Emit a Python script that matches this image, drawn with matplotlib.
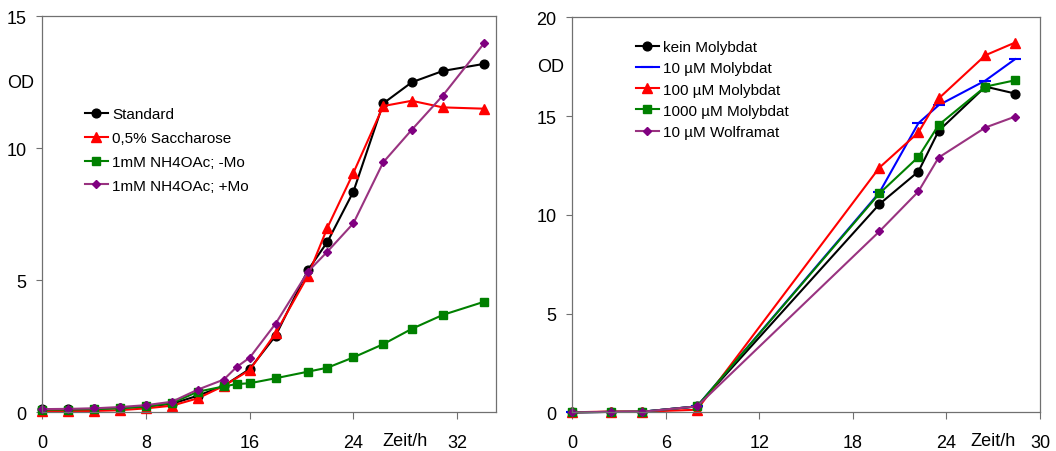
import matplotlib
matplotlib.use("Agg")
import matplotlib.pyplot as plt

plt.rcParams['font.family'] = ['Liberation Sans', 'DejaVu Sans']

# ---------------- left panel data ----------------
x_main = [0, 2, 4, 6, 8, 10, 12, 14, 16, 18, 20.5, 22, 24, 26.3, 28.5, 30.9, 34.1]
x_ext = [0, 2, 4, 6, 8, 10, 12, 14, 15, 16, 18, 20.5, 22, 24, 26.3, 28.5, 30.9, 34.1]
standard = [0.12, 0.12, 0.13, 0.17, 0.22, 0.32, 0.63, 1.0, 1.64, 2.9, 5.39, 6.46, 8.36, 11.7, 12.5, 12.93, 13.2]
saccharose = [0.05, 0.05, 0.05, 0.08, 0.15, 0.25, 0.53, 1.0, 1.6, 3.0, 5.18, 7.0, 9.07, 11.6, 11.8, 11.55, 11.5]
nh4_minus_mo = [0.1, 0.1, 0.12, 0.15, 0.22, 0.35, 0.78, 0.98, 1.07, 1.1, 1.29, 1.54, 1.69, 2.08, 2.58, 3.16, 3.69, 4.19]
nh4_plus_mo = [0.12, 0.13, 0.15, 0.2, 0.27, 0.4, 0.86, 1.24, 1.72, 2.07, 3.36, 5.33, 6.09, 7.16, 9.47, 10.7, 12.0, 13.99]
left_labels = ["Standard", "0,5% Saccharose", "1mM NH4OAc; -Mo", "1mM NH4OAc; +Mo"]
left_xticks = [0, 8, 16, 24, 32]
left_yticks = [0, 5, 10, 15]

# ---------------- right panel data ----------------
x_right = [0, 2.5, 4.5, 8, 19.7, 22.2, 23.5, 26.5, 28.4]
kein = [0.0, 0.02, 0.03, 0.3, 10.54, 12.19, 14.25, 16.49, 16.14]
mo10 = [0.0, 0.02, 0.03, 0.3, 11.13, 14.64, 15.55, 16.8, 17.88]
mo100 = [0.0, 0.04, 0.03, 0.13, 12.39, 14.17, 15.89, 18.08, 18.72]
mo1000 = [0.0, 0.02, 0.03, 0.3, 11.08, 12.93, 14.55, 16.49, 16.81]
wolfram = [0.0, 0.02, 0.03, 0.3, 9.16, 11.18, 12.9, 14.42, 14.97]
right_labels = ["kein Molybdat", "10 µM Molybdat", "100 µM Molybdat", "1000 µM Molybdat", "10 µM Wolframat"]
right_xticks = [0, 6, 12, 18, 24, 30]
right_yticks = [0, 5, 10, 15, 20]

SPINE = '#707070'
PURPLE_LINE = '#993380'
PURPLE = '#800080'
GREEN = '#008000'

fig = plt.figure(figsize=(10.56, 4.52), dpi=100)
ax1 = fig.add_axes([42.3/1056, 1-413.3/452, (496-42.3)/1056, (413.3-17.3)/452])
ax2 = fig.add_axes([572.3/1056, 1-413.3/452, (1040-572.3)/1056, (413.3-18.3)/452])


def style(ax, xlim, ylim, xticks, yticks):
    ax.set_xlim(*xlim)
    ax.set_ylim(*ylim)
    ax.set_xticks(xticks)
    ax.set_yticks(yticks)
    for s in ax.spines.values():
        s.set_color(SPINE)
        s.set_linewidth(0.9)
    ax.tick_params(axis='x', direction='out', length=5.2, width=0.8, color=SPINE,
                   labelsize=13, pad=10.3)
    ax.tick_params(axis='y', direction='out', length=4.2, width=0.8, color=SPINE,
                   labelsize=13, pad=7.0)


lw = 1.5
ax1.plot(x_main, standard, color='black', lw=lw, marker='o', ms=6.3, clip_on=False, label=left_labels[0])
ax1.plot(x_main, saccharose, color='red', lw=lw, marker='^', ms=7.2, clip_on=False, label=left_labels[1])
ax1.plot(x_ext, nh4_minus_mo, color=GREEN, lw=lw, marker='s', ms=5.3, clip_on=False, label=left_labels[2])
ax1.plot(x_ext, nh4_plus_mo, color=PURPLE_LINE, lw=lw, marker='D', ms=4.4, mfc=PURPLE, mec=PURPLE,
         clip_on=False, label=left_labels[3])
style(ax1, (0, 35), (0, 15), left_xticks, left_yticks)

ax2.plot(x_right, kein, color='black', lw=lw, marker='o', ms=6.3, clip_on=False, label=right_labels[0])
ax2.plot(x_right, mo10, color='blue', lw=lw, marker='_', ms=9, mew=1.5, clip_on=False, label=right_labels[1])
ax2.plot(x_right, mo100, color='red', lw=lw, marker='^', ms=7.2, clip_on=False, label=right_labels[2])
ax2.plot(x_right, mo1000, color=GREEN, lw=lw, marker='s', ms=6.0, clip_on=False, label=right_labels[3])
ax2.plot(x_right, wolfram, color=PURPLE_LINE, lw=lw, marker='D', ms=4.4, mfc=PURPLE, mec=PURPLE,
         clip_on=False, label=right_labels[4])
style(ax2, (0, 30), (0, 20), right_xticks, right_yticks)

# OD labels
fig.text(21/1056, 1-83/452, "OD", fontsize=13, ha='center', va='center')
fig.text(551/1056, 1-68/452, "OD", fontsize=13, ha='center', va='center')

# Zeit/h labels
fig.text(405/1056, 1-441.5/452, "Zeit/h", fontsize=13, ha='center', va='center')
fig.text(993/1056, 1-441.5/452, "Zeit/h", fontsize=13, ha='center', va='center')

leg_kw = dict(frameon=False, fontsize=11, numpoints=1, handlelength=1.5, handletextpad=0.3,
              borderpad=0, borderaxespad=0, loc='upper left')
ax1.legend(bbox_to_anchor=(0.094, 0.77), labelspacing=0.64, **leg_kw)
ax2.legend(bbox_to_anchor=(0.136, 0.942), labelspacing=0.47, **leg_kw)

fig.savefig("out.png", dpi=100)
